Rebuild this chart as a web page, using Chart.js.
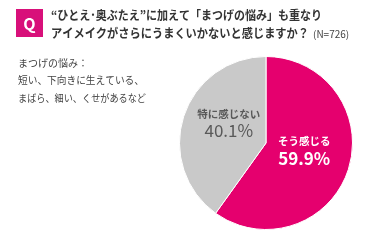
<!DOCTYPE html>
<html>
<head>
<meta charset="utf-8">
<script src="https://cdn.jsdelivr.net/npm/chart.js@4"></script>
<style>
  html, body { margin: 0; padding: 0; background: #fff; }
  #wrap { width: 384px; height: 247px; position: relative; }
</style>
</head>
<body>
<div id="wrap"><canvas id="pieChart" width="384" height="247"></canvas></div>
<script>
const categories = ['そう感じる', '特に感じない'];
const values = [59.9, 40.1];
const colors = ['#e5006e', '#c9c9c9'];
const labelColors = ['#ffffff', '#595959'];
const titleLines = ['“ひとえ･奥ぶたえ”に加えて「まつげの悩み」も重なり', 'アイメイクがさらにうまくいかないと感じますか？'];
const sampleNote = '(N=726)';
const noteLines = ['まつげの悩み：', '短い、下向きに生えている、', 'まばら、細い、くせがあるなど'];

const FONT = '"Noto Sans CJK JP", "Noto Sans", sans-serif';

// header, note and labels inside the slices
const textPlugin = {
  id: 'textPlugin',
  afterDraw(chart) {
    const ctx = chart.ctx;
    ctx.save();

    // Q box
    ctx.fillStyle = '#d8107a';
    ctx.fillRect(16, 9, 27, 28);
    ctx.fillStyle = '#fff';
    ctx.font = 'bold 16px ' + FONT;
    ctx.textAlign = 'center';
    ctx.textBaseline = 'middle';
    ctx.fillText('Q', 29.5, 23.5);

    // title (reference uses proportional kana, so squeeze a bit)
    ctx.textAlign = 'left';
    ctx.fillStyle = '#333';
    ctx.font = 'bold 12.5px ' + FONT;
    ctx.fillText(titleLines[0], 51, 15, 271);
    ctx.fillText(titleLines[1], 51, 33, 258);
    ctx.font = '10px ' + FONT;
    ctx.fillStyle = '#444';
    ctx.fillText(sampleNote, 313, 34, 39);

    // note on the left
    ctx.font = '10.5px ' + FONT;
    ctx.fillStyle = '#444';
    const noteW = [70, 126, 128];
    noteLines.forEach((t, i) => ctx.fillText(t, 18, 63 + i * 17.5, noteW[i]));

    // slice labels
    const meta = chart.getDatasetMeta(0);
    const dx = [-3, 4];
    meta.data.forEach((arc, i) => {
      const p = arc.tooltipPosition();
      ctx.textAlign = 'center';
      ctx.fillStyle = labelColors[i];
      ctx.font = 'bold 10.5px ' + FONT;
      ctx.fillText(categories[i], p.x + dx[i], p.y - 16 + (i === 0 ? 1 : 0));
      ctx.font = (i === 0 ? 'bold ' : '') + '17px ' + FONT;
      ctx.fillText(values[i].toFixed(1) + '%', p.x + dx[i], p.y + 1 + (i === 0 ? 1 : 0));
    });

    ctx.restore();
  }
};

new Chart(document.getElementById('pieChart'), {
  type: 'pie',
  data: {
    labels: categories,
    datasets: [{
      data: values,
      backgroundColor: colors,
      borderColor: '#ffffff',
      borderWidth: 1
    }]
  },
  options: {
    responsive: false,
    animation: false,
    layout: { padding: { left: 179, right: 31, top: 55, bottom: 16 } },
    plugins: {
      legend: { display: false },
      tooltip: { enabled: false }
    }
  },
  plugins: [textPlugin]
});
</script>
</body>
</html>
